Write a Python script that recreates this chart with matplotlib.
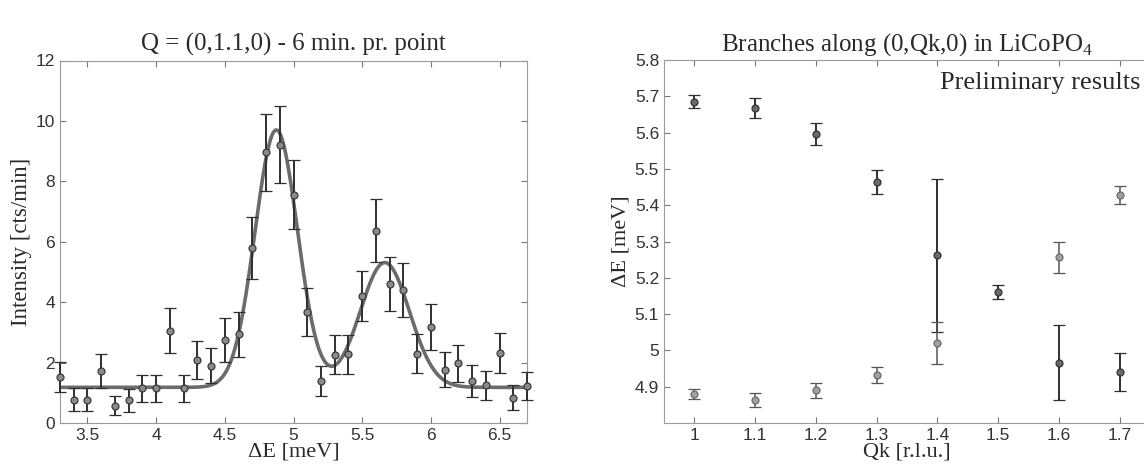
import numpy as np
import matplotlib
matplotlib.use("Agg")
import matplotlib.pyplot as plt

# left panel: scan at Q = (0,1.1,0)
energy = [3.3, 3.4, 3.5, 3.6, 3.7, 3.8, 3.9, 4.0, 4.1, 4.2, 4.3, 4.4,
          4.5, 4.6, 4.7, 4.8, 4.9, 5.0, 5.1, 5.2, 5.3, 5.4, 5.5, 5.6,
          5.7, 5.8, 5.9, 6.0, 6.1, 6.2, 6.3, 6.4, 6.5, 6.6, 6.7]
intensity = [1.53, 0.77, 0.77, 1.73, 0.57, 0.75, 1.15, 1.15, 3.06, 1.15, 2.08, 1.89,
             2.75, 2.94, 5.79, 8.96, 9.21, 7.56, 3.68, 1.39, 2.26, 2.27, 4.21, 6.37,
             4.60, 4.41, 2.30, 3.19, 1.77, 1.97, 1.39, 1.25, 2.33, 0.84, 1.22]
intensity_err = [0.50, 0.38, 0.38, 0.57, 0.32, 0.38, 0.45, 0.45, 0.75, 0.45, 0.63, 0.58,
                 0.72, 0.74, 1.03, 1.28, 1.27, 1.14, 0.80, 0.50, 0.64, 0.64, 0.83, 1.05,
                 0.90, 0.89, 0.64, 0.76, 0.58, 0.61, 0.52, 0.48, 0.66, 0.41, 0.47]

# fitted two-gaussian line (parameters)
fit_background = 1.18
fit_centers = [4.875, 5.665]
fit_amps = [8.52, 4.13]
fit_widths = [0.155, 0.18]

# right panel: branches along (0,Qk,0)
qk_dark = [1.0, 1.1, 1.2, 1.3, 1.4, 1.5, 1.6, 1.7]
de_dark = [5.685, 5.668, 5.596, 5.463, 5.262, 5.160, 4.966, 4.941]
de_dark_err = [0.018, 0.028, 0.031, 0.033, 0.210, 0.019, 0.103, 0.053]

qk_light = [1.0, 1.1, 1.2, 1.3, 1.4, 1.6, 1.7]
de_light = [4.879, 4.864, 4.890, 4.933, 5.021, 5.256, 5.428]
de_light_err = [0.014, 0.019, 0.021, 0.022, 0.058, 0.043, 0.026]

serif = ["Liberation Serif", "DejaVu Serif"]
sans = ["Liberation Sans", "DejaVu Sans"]
plt.rcParams["font.family"] = sans
plt.rcParams["font.size"] = 12
plt.rcParams["mathtext.fontset"] = "custom"
plt.rcParams["mathtext.rm"] = "Liberation Serif"

W, H = 1144, 470
fig = plt.figure(figsize=(W / 100, H / 100), dpi=100)

def box(x0, y0, x1, y1):
    return [x0 / W, 1 - y1 / H, (x1 - x0) / W, (y1 - y0) / H]

def matlab_axes(ax):
    for s in ax.spines.values():
        s.set_color("#9a9a9a")
        s.set_linewidth(0.8)
    ax.tick_params(direction="in", top=True, right=True, length=4,
                   width=0.8, color="#777777", labelcolor="#333333",
                   labelsize=12.5)

# ---- left ----
ax1 = fig.add_axes(box(60, 60.5, 527, 423))
xx = np.linspace(3.3, 6.7, 600)
yy = fit_background + sum(a * np.exp(-(xx - c) ** 2 / (2 * w ** 2))
                          for a, c, w in zip(fit_amps, fit_centers, fit_widths))
ax1.plot(xx, yy, color="#6b6b6b", lw=2.6, zorder=2)
ax1.errorbar(energy, intensity, yerr=intensity_err, fmt="o", ms=5,
             mfc="#8a8a8a", mec="#3a3a3a", mew=0.9, ecolor="#2f2f2f",
             elinewidth=1.4, capsize=4, capthick=1.4, clip_on=False, zorder=3)
ax1.set_xlim(3.3, 6.7)
ax1.set_ylim(0, 12)
ax1.set_xticks([3.5, 4, 4.5, 5, 5.5, 6, 6.5])
ax1.set_xticklabels(["3.5", "4", "4.5", "5", "5.5", "6", "6.5"])
ax1.set_yticks([0, 2, 4, 6, 8, 10, 12])
matlab_axes(ax1)
ax1.set_title("Q = (0,1.1,0) - 6 min. pr. point", family=serif, fontsize=18,
              color="#2a2a2a", pad=7)
ax1.set_xlabel("ΔE [meV]", family=serif, fontsize=16, color="#2a2a2a", labelpad=0)
ax1.set_ylabel("Intensity [cts/min]", family=serif, fontsize=16.5, color="#2a2a2a",
               labelpad=3)

# ---- right ----
ax2 = fig.add_axes(box(664, 60, 1150, 423))
ax2.errorbar(qk_dark, de_dark, yerr=de_dark_err, fmt="o", ms=5,
             mfc="#6a6a6a", mec="#333333", mew=0.9, ecolor="#2f2f2f",
             elinewidth=1.4, capsize=4.5, capthick=1.4, zorder=3)
ax2.errorbar(qk_light, de_light, yerr=de_light_err, fmt="o", ms=5,
             mfc="#a0a0a0", mec="#6a6a6a", mew=0.9, ecolor="#555555",
             elinewidth=1.1, capsize=4.5, capthick=1.1, zorder=3)
ax2.set_xlim(0.95, 1.75)
ax2.set_ylim(4.8, 5.8)
ax2.set_xticks([1, 1.1, 1.2, 1.3, 1.4, 1.5, 1.6, 1.7])
ax2.set_xticklabels(["1", "1.1", "1.2", "1.3", "1.4", "1.5", "1.6", "1.7"])
ax2.set_yticks([4.9, 5.0, 5.1, 5.2, 5.3, 5.4, 5.5, 5.6, 5.7, 5.8])
ax2.set_yticklabels(["4.9", "5", "5.1", "5.2", "5.3", "5.4", "5.5", "5.6", "5.7", "5.8"])
matlab_axes(ax2)
ax2.set_title("Branches along (0,Qk,0) in LiCoPO$_4$", family=serif, fontsize=18,
              color="#2a2a2a", pad=7)
ax2.set_xlabel("Qk [r.l.u.]", family=serif, fontsize=16, color="#2a2a2a", labelpad=0)
ax2.set_ylabel("ΔE [meV]", family=serif, fontsize=16, color="#2a2a2a", labelpad=3)
ax2.text(1.404, 5.737, "Preliminary results", family=serif, fontsize=19,
         color="#2a2a2a", ha="left", va="center")

fig.savefig("out.png", dpi=100)
